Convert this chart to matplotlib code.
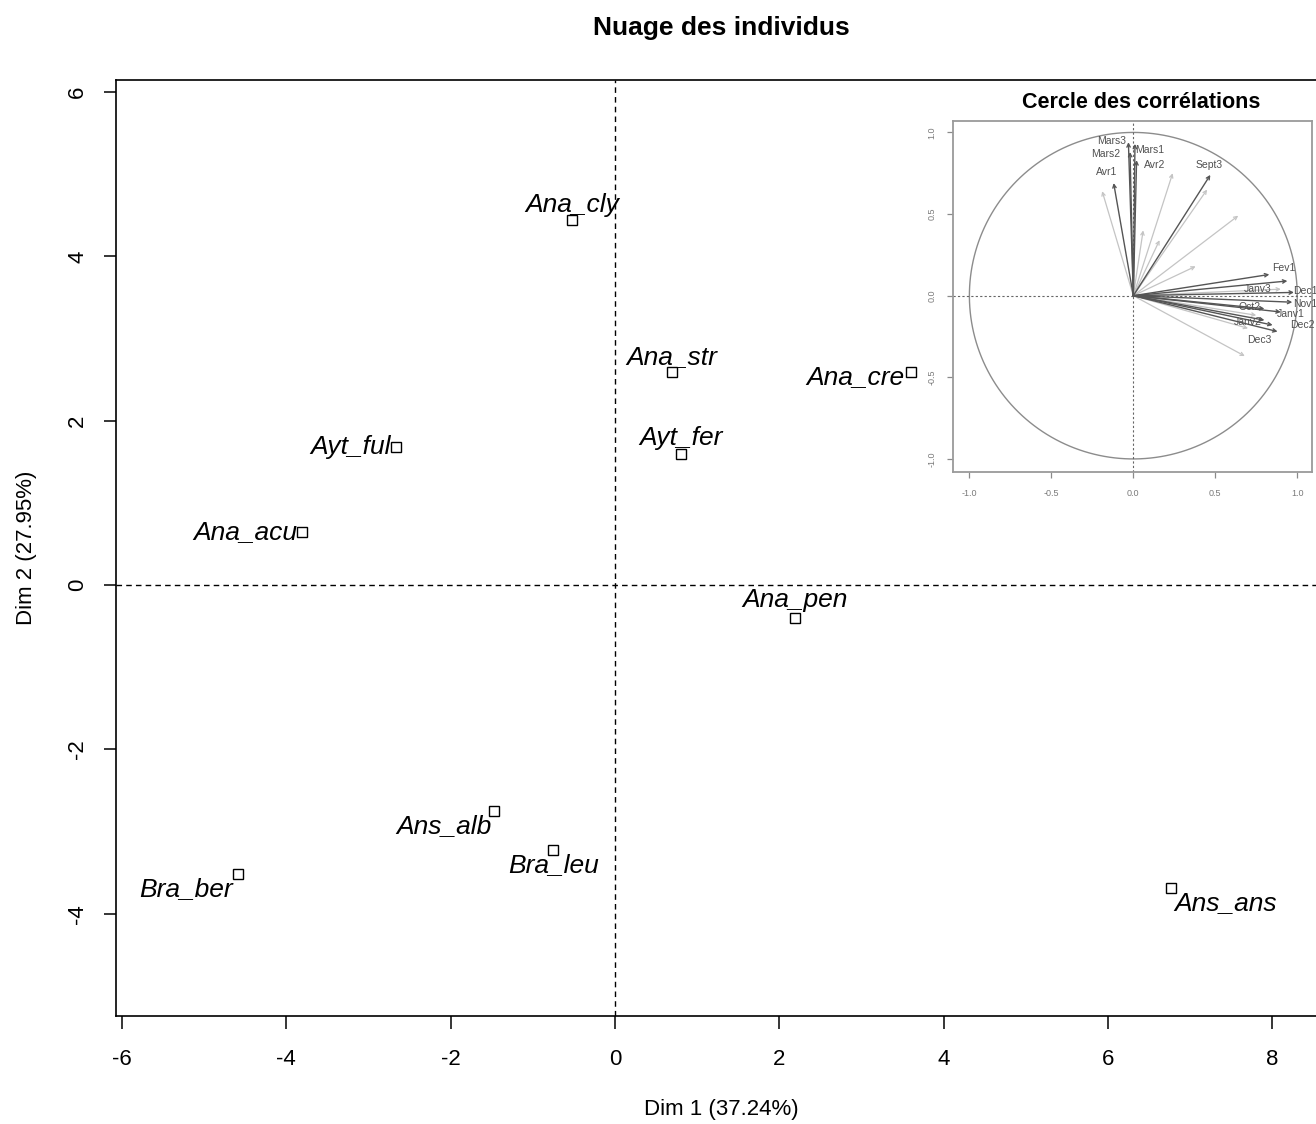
import matplotlib
matplotlib.use("Agg")
import matplotlib.pyplot as plt
import numpy as np

plt.rcParams['font.family'] = ['Liberation Sans', 'DejaVu Sans']

# Individuals (PCA coordinates on Dim 1 / Dim 2)
ind_names = ["Ana_cly", "Ana_str", "Ayt_fer", "Ana_cre", "Ayt_ful", "Ana_acu",
             "Ana_pen", "Ans_alb", "Bra_leu", "Bra_ber", "Ans_ans"]
ind_dim1 = [-0.52, 0.69, 0.80, 3.60, -2.67, -3.81, 2.19, -1.47, -0.75, -4.59, 6.77]
ind_dim2 = [4.44, 2.59, 1.59, 2.59, 1.68, 0.64, -0.40, -2.75, -3.23, -3.52, -3.69]

# Variables (correlation circle), labelled ones
var_names = ["Mars3", "Mars2", "Mars1", "Avr2", "Avr1", "Sept3", "Fev1", "Janv3",
             "Dec1", "Nov1", "Oct2", "Janv1", "Janv2", "Dec2", "Dec3"]
var_dim1 = [-0.03, -0.02, 0.01, 0.02, -0.12, 0.47, 0.83, 0.94,
            0.98, 0.97, 0.80, 0.90, 0.80, 0.88, 0.85]
var_dim2 = [0.94, 0.88, 0.93, 0.83, 0.69, 0.74, 0.13, 0.09,
            0.02, -0.04, -0.08, -0.10, -0.15, -0.22, -0.18]

# Variables poorly represented (drawn faded, no label)
faded_dim1 = [-0.19, 0.24, 0.45, 0.64, 0.38, 0.06, 0.16, 0.68, 0.90, 0.75, 0.70]
faded_dim2 = [0.64, 0.75, 0.65, 0.49, 0.18, 0.40, 0.34, -0.37, 0.04, -0.12, -0.20]

x_ticks = [-6, -4, -2, 0, 2, 4, 6, 8]
y_ticks = [-4, -2, 0, 2, 4, 6]
circle_ticks = [-1.0, -0.5, 0.0, 0.5, 1.0]

# label placement for individuals: (dx px, dy px, ha, va)
ind_label_style = [
    (0, 15, "center", "center"),  # Ana_cly
    (0, 15, "center", "center"),  # Ana_str
    (0, 16, "center", "center"),  # Ayt_fer
    (-6, -5, "right", "center"),  # Ana_cre
    (-5, 0, "right", "center"),   # Ayt_ful
    (-5, 0, "right", "center"),   # Ana_acu
    (0, 18, "center", "center"),  # Ana_pen
    (-3, -15, "right", "center"), # Ans_alb
    (0, -15, "center", "center"), # Bra_leu
    (-5, -15, "right", "center"), # Bra_ber
    (3, -15, "left", "center"),   # Ans_ans
]

# label positions for variables in the circle
var_label_pos = [(-0.13, 0.95), (-0.17, 0.87), (0.10, 0.89), (0.13, 0.80), (-0.16, 0.76),
                 (0.46, 0.80), (0.92, 0.17), (0.76, 0.04), (1.05, 0.03), (1.05, -0.05),
                 (0.71, -0.07), (0.96, -0.11), (0.70, -0.16), (1.03, -0.18), (0.77, -0.27)]

W, H = 1316, 1124
fig = plt.figure(figsize=(W / 100, H / 100), dpi=100)
fig.patch.set_facecolor("white")

# ---- main scatter of individuals ----
ax = fig.add_axes([116 / W, 1 - 1016 / H, (1326 - 116) / W, (1016 - 80) / H])
ax.set_xlim(-6.073, 8.656)
ax.set_ylim(-5.245, 6.146)
ax.axhline(0, color="black", lw=1.0, ls=(0, (4, 3)))
ax.axvline(0, color="black", lw=1.0, ls=(0, (4, 3)))
ax.plot(ind_dim1, ind_dim2, ls="none", marker="s", ms=7.5, mfc="white",
        mec="black", mew=1.0)
for name, x, y, (dx, dy, ha, va) in zip(ind_names, ind_dim1, ind_dim2, ind_label_style):
    ax.annotate(name, (x, y), xytext=(dx * 0.72, dy * 0.72), textcoords="offset points",
                ha=ha, va=va, fontsize=19, fontstyle="italic", color="black")

for s in ax.spines.values():
    s.set_linewidth(1.2)
ax.set_xticks(x_ticks)
ax.set_yticks(y_ticks)
ax.set_xticklabels([str(t) for t in x_ticks])
ax.set_yticklabels([str(t) for t in y_ticks], rotation=90, va="center")
ax.tick_params(axis="both", direction="out", length=9, width=1.1, labelsize=16,
               color="black")
ax.tick_params(axis="x", pad=15)
ax.tick_params(axis="y", pad=11)
ax.set_xlabel("Dim 1 (37.24%)", fontsize=16, labelpad=21)
ax.set_ylabel("Dim 2 (27.95%)", fontsize=16, labelpad=22)
fig.text(721 / W, 1 - 28 / H, "Nuage des individus", ha="center", va="center",
         fontsize=19, fontweight="bold")

# ---- correlation circle inset ----
fig.patches.append(plt.Rectangle((918 / W, 1 - 505 / H), (W - 918) / W, (505 - 84) / H,
                                 transform=fig.transFigure, facecolor="white",
                                 edgecolor="none", zorder=2))
ia = fig.add_axes([953 / W, 1 - 472 / H, (1312 - 953) / W, (472 - 121) / H], zorder=3)
ia.set_xlim(-1.10, 1.09)
ia.set_ylim(-1.08, 1.07)
gray = "#8c8c8c"
theta = np.linspace(0, 2 * np.pi, 400)
ia.plot(np.cos(theta), np.sin(theta), color=gray, lw=1.0)
ia.axhline(0, color="#666666", lw=0.8, ls=(0, (2, 2)))
ia.axvline(0, color="#666666", lw=0.8, ls=(0, (2, 2)))
for x, y in zip(faded_dim1, faded_dim2):
    ia.annotate("", xy=(x, y), xytext=(0, 0),
                arrowprops=dict(arrowstyle="->", color="#c4c4c4", lw=0.9,
                                mutation_scale=6, shrinkA=0, shrinkB=0))
for x, y in zip(var_dim1, var_dim2):
    ia.annotate("", xy=(x, y), xytext=(0, 0),
                arrowprops=dict(arrowstyle="->", color="#555555", lw=1.0,
                                mutation_scale=6, shrinkA=0, shrinkB=0))
for name, (lx, ly) in zip(var_names, var_label_pos):
    ia.text(lx, ly, name, ha="center", va="center", fontsize=7.5, color="#505050",
            clip_on=False)
for s in ia.spines.values():
    s.set_color("#9a9a9a")
    s.set_linewidth(1.3)
ia.set_xticks(circle_ticks)
ia.set_yticks(circle_ticks)
ia.set_xticklabels([f"{t:.1f}" for t in circle_ticks])
ia.set_yticklabels([f"{t:.1f}" for t in circle_ticks], rotation=90, va="center")
ia.tick_params(direction="out", length=4, width=0.9, colors="#8a8a8a",
               labelsize=6.5, labelcolor="#7a7a7a", pad=8)
fig.text(1141 / W, 1 - 103 / H, "Cercle des corrélations", ha="center", va="center",
         fontsize=15.5, fontweight="bold", zorder=4)

fig.savefig("out.png", dpi=100, facecolor="white")
